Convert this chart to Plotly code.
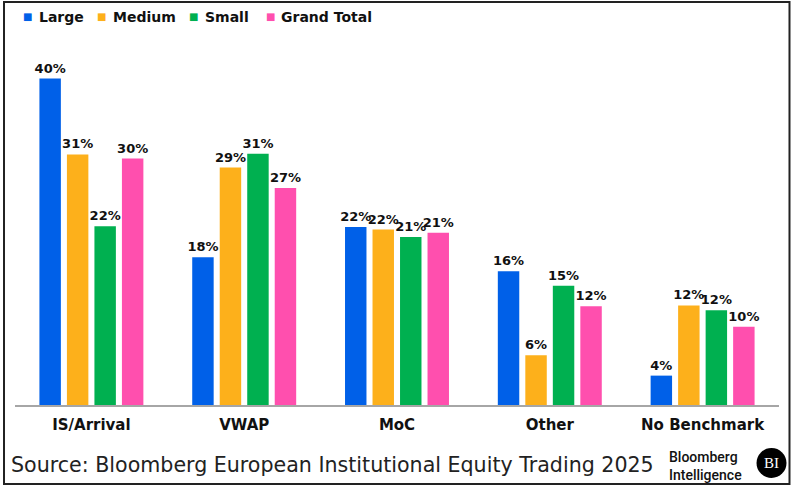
import plotly.graph_objects as go

categories = ["IS/Arrival", "VWAP", "MoC", "Other", "No Benchmark"]
series_names = ["Large", "Medium", "Small", "Grand Total"]
large = [40.0, 18.1, 21.8, 16.4, 3.6]
medium = [30.7, 29.1, 21.5, 6.1, 12.2]
small = [21.9, 30.8, 20.6, 14.6, 11.6]
grand_total = [30.2, 26.6, 21.1, 12.1, 9.6]
colors = ["#0060E8", "#FDB01B", "#00B050", "#FF4FAE"]

W, H = 800, 491
L, R, T, B = 15, 20.5, 40, 86
pw, ph = W - L - R, H - T - B

def px(x):
    return (x - L) / pw

def py(y):
    return (H - B - y) / ph

fig = go.Figure()
for name, vals, col in zip(series_names, [large, medium, small, grand_total], colors):
    fig.add_trace(go.Bar(
        x=categories, y=vals, name=name, marker=dict(color=col, line=dict(width=0)),
        text=[f"{round(v)}%" for v in vals], textposition="outside",
        constraintext="none",
        textfont=dict(family="DejaVu Sans", size=13, color="#111111", weight="bold"),
        cliponaxis=False,
    ))

fig.update_layout(
    width=W, height=H, margin=dict(l=L, r=R, t=T, b=B, autoexpand=False),
    paper_bgcolor="white", plot_bgcolor="white",
    barmode="group", bargap=0.28, bargroupgap=0.22,
    showlegend=False,
    xaxis=dict(showgrid=False, showline=True, linecolor="#A6A6A6", linewidth=2,
               ticks="", ticklabelstandoff=5,
               tickfont=dict(family="DejaVu Sans", size=15, color="#111111", weight="bold")),
    yaxis=dict(range=[0, ph / 8.16], visible=False, showgrid=False),
)

# legend built from series names and colours
legend_marker_x = [28, 102, 194, 271]
legend_text_x = [37, 111, 203, 279]
for name, col, mx, tx in zip(series_names, colors, legend_marker_x, legend_text_x):
    fig.add_annotation(xref="paper", yref="paper", x=px(mx), y=py(17), xanchor="center", yanchor="middle",
                       text="■", showarrow=False, font=dict(family="DejaVu Sans", size=10, color=col))
    fig.add_annotation(xref="paper", yref="paper", x=px(tx), y=py(17), xanchor="left", yanchor="middle",
                       text=name, showarrow=False,
                       font=dict(family="DejaVu Sans", size=14, color="#111111", weight="bold"))

fig.add_shape(type="rect", xref="paper", yref="paper",
              x0=px(4), x1=px(790), y0=py(484), y1=py(2),
              line=dict(color="#222222", width=2), fillcolor="rgba(0,0,0,0)", layer="above")

fig.add_annotation(xref="paper", yref="paper", x=px(9), y=py(465), xanchor="left", yanchor="middle",
                   text="Source: Bloomberg European Institutional Equity Trading 2025", showarrow=False,
                   font=dict(family="DejaVu Sans", size=20.6, color="#222222"))
fig.add_annotation(xref="paper", yref="paper", x=px(667), y=py(466), xanchor="left", yanchor="middle",
                   text="Bloomberg<br>Intelligence", showarrow=False, align="left",
                   font=dict(family="Roboto", size=14, color="#111111", weight=500))
fig.add_shape(type="circle", xref="paper", yref="paper",
              x0=px(757), x1=px(787), y0=py(478), y1=py(448),
              fillcolor="#000000", line=dict(width=0))
fig.add_annotation(xref="paper", yref="paper", x=px(772), y=py(463), xanchor="center", yanchor="middle",
                   text="BI", showarrow=False,
                   font=dict(family="Liberation Serif", size=15, color="white"))

fig.write_html("out.html", config={"displayModeBar": False},
               post_script="document.body.style.margin='0px';")
